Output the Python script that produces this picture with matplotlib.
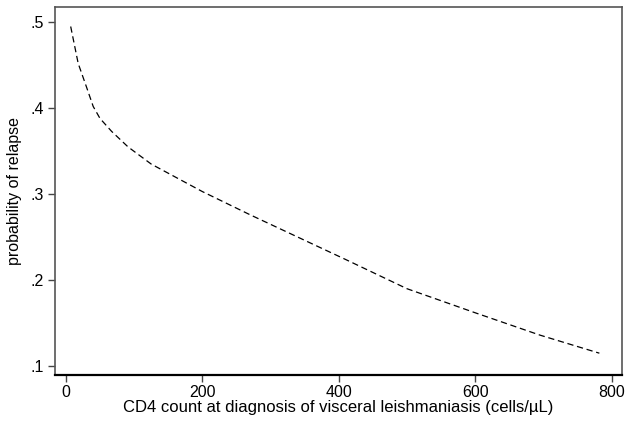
import numpy as np
import matplotlib
matplotlib.use("Agg")
import matplotlib.pyplot as plt

plt.rcParams["font.family"] = ["Liberation Sans", "DejaVu Sans"]

# values
cd4 = [7, 18, 30, 40, 50, 67, 91, 125, 200, 270, 340, 410, 500, 600, 695, 782]
prob = [0.495, 0.452, 0.425, 0.402, 0.388, 0.373, 0.355, 0.335, 0.303,
        0.276, 0.250, 0.224, 0.190, 0.162, 0.136, 0.115]

x_ticks = [0, 200, 400, 600, 800]
y_ticks = [0.1, 0.2, 0.3, 0.4, 0.5]
y_tick_labels = [".1", ".2", ".3", ".4", ".5"]

fig = plt.figure(figsize=(6.25, 4.21), dpi=100)
ax = fig.add_axes([0.088, 0.109, 0.907, 0.874])

ax.plot(cd4, prob, color="black", linewidth=0.9, linestyle=(0, (5, 3)))

ax.set_xlim(-16, 815)
ax.set_ylim(0.0895, 0.5175)

ax.set_xticks(x_ticks)
ax.set_xticklabels([str(t) for t in x_ticks], fontsize=11.5)
ax.set_yticks(y_ticks)
ax.set_yticklabels(y_tick_labels, fontsize=11.5)
ax.tick_params(axis="x", direction="out", length=5, width=1, color="#444444", pad=2)
ax.tick_params(axis="y", direction="out", length=5, width=1, color="#444444", pad=3)

for side in ["left", "top", "right"]:
    ax.spines[side].set_color("#555555")
    ax.spines[side].set_linewidth(1.2)
ax.spines["bottom"].set_color("black")
ax.spines["bottom"].set_linewidth(1.6)

ax.set_xlabel("CD4 count at diagnosis of visceral leishmaniasis (cells/\u00b5L)", fontsize=12, labelpad=0)
ax.set_ylabel("probability of relapse", fontsize=11.5, labelpad=6)

plt.savefig("out.png", dpi=100)
plt.close()
